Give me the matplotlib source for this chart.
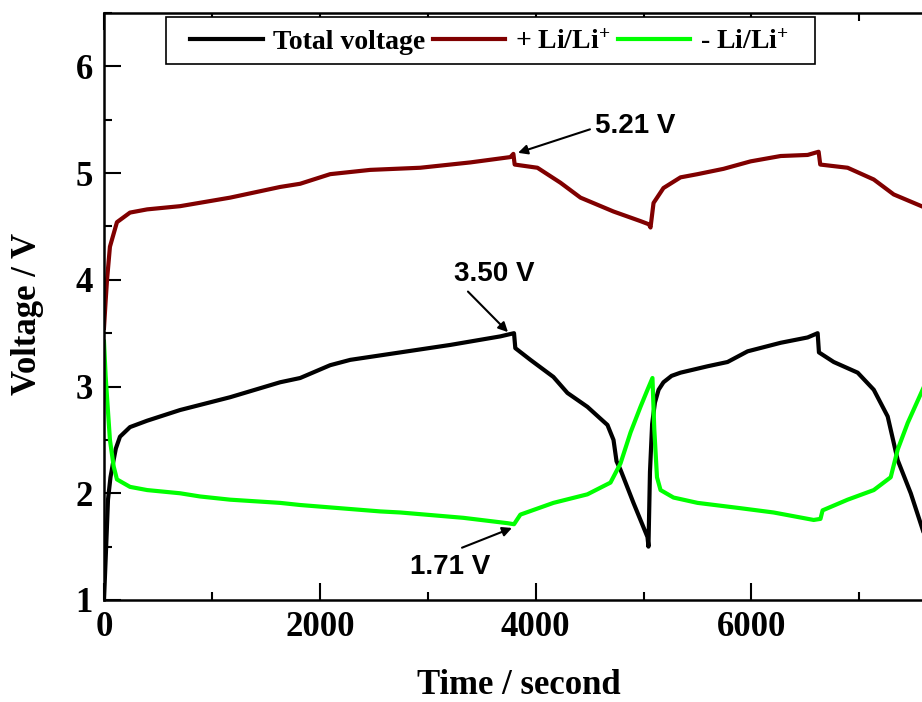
import numpy as np
import matplotlib
matplotlib.use("Agg")
from matplotlib import pyplot as plt
from matplotlib.patches import Rectangle
from matplotlib.ticker import MultipleLocator, FixedLocator

# values
t_total = [0, 20, 37, 60, 83, 110, 148, 241, 400, 705, 1169, 1632, 1818, 2096, 2282, 2746,
           3210, 3673, 3800, 3812, 3952, 4165, 4295, 4480, 4600, 4666, 4722, 4750, 4787, 4907,
           5037, 5046, 5060, 5080, 5106, 5140, 5185, 5260, 5343, 5594, 5779, 5965, 6271, 6521,
           6614, 6626, 6763, 6985, 7134, 7263, 7356, 7477, 7600]
v_total = [1.00, 1.50, 1.94, 2.15, 2.28, 2.42, 2.53, 2.62, 2.68, 2.78, 2.90, 3.04, 3.08, 3.20, 3.25, 3.32,
           3.39, 3.47, 3.50, 3.36, 3.25, 3.09, 2.94, 2.81, 2.70, 2.64, 2.50, 2.30, 2.22, 1.91,
           1.59, 1.50, 2.20, 2.65, 2.85, 2.97, 3.04, 3.10, 3.13, 3.19, 3.23, 3.33, 3.41, 3.46,
           3.50, 3.32, 3.23, 3.13, 2.97, 2.72, 2.31, 2.00, 1.62]

t_pos = [0, 15, 28, 55, 120, 241, 400, 705, 1169, 1632, 1818, 2096, 2467, 2931, 3395, 3766,
         3794, 3806, 4017, 4230, 4416, 4722, 4972, 5050, 5065, 5093, 5185, 5343, 5501, 5742,
         5993, 6271, 6521, 6623, 6638, 6892, 7134, 7319, 7600]
v_pos = [3.55, 3.80, 4.00, 4.31, 4.54, 4.63, 4.66, 4.69, 4.77, 4.87, 4.90, 4.99, 5.03, 5.05, 5.10, 5.15,
         5.18, 5.08, 5.05, 4.91, 4.77, 4.64, 4.55, 4.52, 4.49, 4.72, 4.86, 4.96, 4.99, 5.04,
         5.11, 5.16, 5.17, 5.20, 5.08, 5.05, 4.94, 4.80, 4.68]

t_neg = [0, 15, 28, 55, 90, 120, 241, 400, 705, 890, 1169, 1632, 1818, 2560, 2746, 3330,
         3738, 3800, 3859, 4165, 4480, 4694, 4787, 4880, 4972, 5037, 5083, 5100, 5125, 5158,
         5278, 5501, 5900, 6206, 6577, 6640, 6660, 6892, 7134, 7291, 7356, 7449, 7600]
v_neg = [3.42, 3.10, 2.90, 2.50, 2.25, 2.13, 2.06, 2.03, 2.00, 1.97, 1.94, 1.91, 1.89, 1.83, 1.82, 1.77,
         1.72, 1.71, 1.80, 1.91, 1.99, 2.10, 2.28, 2.57, 2.81, 2.97, 3.08, 2.60, 2.15, 2.03,
         1.96, 1.91, 1.86, 1.82, 1.75, 1.76, 1.84, 1.94, 2.03, 2.15, 2.41, 2.66, 3.00]

labels = ["Total voltage", "+ Li/Li$^{+}$", "- Li/Li$^{+}$"]
colors = ["black", "#800000", "#00ff00"]
x_ticks = [0, 2000, 4000, 6000]

plt.rcParams["font.family"] = "Liberation Serif"
plt.rcParams["font.weight"] = "bold"
plt.rcParams["mathtext.fontset"] = "custom"
plt.rcParams["mathtext.rm"] = "Liberation Serif:bold"
plt.rcParams["mathtext.it"] = "Liberation Serif:bold"
plt.rcParams["mathtext.bf"] = "Liberation Serif:bold"

fig = plt.figure(figsize=(9.22, 7.02), dpi=100)
ax = fig.add_axes([104 / 922, 102 / 702, 863.2 / 922, 587 / 702])

ax.plot(t_total, v_total, color=colors[0], lw=3, label=labels[0])
ax.plot(t_pos, v_pos, color=colors[1], lw=3, label=labels[1])
ax.plot(t_neg, v_neg, color=colors[2], lw=3, label=labels[2])

ax.set_xlim(0, 8000)
ax.set_ylim(1, 6.5)
ax.xaxis.set_major_locator(FixedLocator(x_ticks))
ax.xaxis.set_minor_locator(MultipleLocator(1000))
ax.yaxis.set_major_locator(MultipleLocator(1))
ax.yaxis.set_minor_locator(MultipleLocator(0.5))
ax.tick_params(which="both", direction="in", top=True, right=True, width=1.5, labelsize=25)
ax.tick_params(which="major", length=12, pad=8)
ax.tick_params(which="minor", length=6)
for sp in ax.spines.values():
    sp.set_linewidth(1.8)

ax.set_xlabel("Time / second", fontsize=25, fontweight="bold")
ax.set_ylabel("Voltage / V", fontsize=25, fontweight="bold")
ax.xaxis.set_label_coords(0.48, -0.146)
ax.xaxis.label.set_va("center")
ax.yaxis.set_label_coords(-0.089, 0.487)
ax.yaxis.label.set_va("center")

leg = ax.legend(loc="upper left", bbox_to_anchor=(0.0855, 0.9932), borderaxespad=0,
                ncol=3, fontsize=20, handlelength=2.6, handletextpad=0.36,
                columnspacing=0.28, borderpad=0.45, frameon=False)

# frame drawn around the legend, a bit wider on the sides like the original
fig.canvas.draw()
bb = leg.get_window_extent().transformed(fig.transFigure.inverted())
frame = Rectangle((bb.x0 - 12 / 922, bb.y0 + 3 / 702), bb.width + 26 / 922, bb.height - 3 / 702,
                  transform=fig.transFigure, facecolor="white", edgecolor="black",
                  lw=1.2, zorder=4.9, clip_on=False)
ax.add_patch(frame)

ann_font = dict(family="Liberation Sans", weight="bold", size=20)
arrow = dict(arrowstyle="-|>", color="black", lw=1.5, mutation_scale=14, shrinkA=0, shrinkB=0)

# peak / minimum markers
ax.annotate("", xy=(3837, 5.19), xytext=(4504, 5.41), arrowprops=arrow)
ax.text(4550, 5.44, "5.21 V", ha="left", va="center", **ann_font)
ax.annotate("", xy=(3744, 3.51), xytext=(3373, 3.89), arrowprops=arrow)
ax.text(3240, 4.05, "3.50 V", ha="left", va="center", **ann_font)
ax.annotate("", xy=(3781, 1.675), xytext=(3318, 1.49), arrowprops=arrow)
ax.text(2840, 1.31, "1.71 V", ha="left", va="center", **ann_font)

fig.savefig("out.png", dpi=100)
